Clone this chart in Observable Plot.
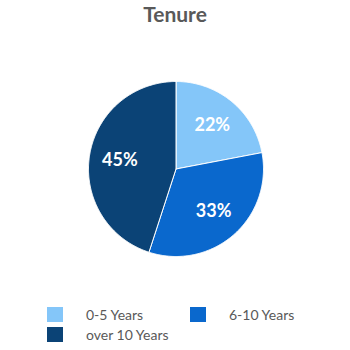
<!DOCTYPE html>
<html>
<head>
<meta charset="utf-8">
<script src="https://cdn.jsdelivr.net/npm/d3@7"></script>
<script src="https://cdn.jsdelivr.net/npm/@observablehq/plot@0.6"></script>
<style>
  html, body { margin: 0; padding: 0; background: #fff; }
  #page { position: relative; width: 350px; height: 350px; overflow: hidden; font-family: Lato, "Open Sans", sans-serif; }
  #title { position: absolute; left: 0; top: 0; width: 350px; text-align: center; font-weight: bold; font-size: 21px; line-height: 28px; color: #595959; }
  #chart { position: absolute; left: 0; top: 35px; }
  .lg { position: absolute; display: flex; align-items: center; font-size: 14px; color: #595959; }
  .sw { width: 16px; height: 15px; display: inline-block; }
</style>
</head>
<body>
<div id="page">
  <div id="title">Tenure</div>
  <div id="chart"></div>
  <div id="legend"></div>
</div>
<script>
const categories = ["0-5 Years", "6-10 Years", "over 10 Years"];
const values = [22, 33, 45];
const labels = ["22%", "33%", "45%"];
const colors = ["#84C6F9", "#0A68CD", "#0B4376"];

// slice geometry from the data (angles clockwise from top)
const pie = d3.pie().sort(null).value(d => d)(values);
const slicePts = [];
pie.forEach((p, i) => {
  slicePts.push({cat: categories[i], x: 0, y: 0});
  const n = Math.max(2, Math.ceil((p.endAngle - p.startAngle) / 0.01));
  for (let k = 0; k <= n; k++) {
    const a = p.startAngle + (p.endAngle - p.startAngle) * k / n;
    slicePts.push({cat: categories[i], x: Math.sin(a), y: Math.cos(a)});
  }
  slicePts.push({cat: categories[i], x: 0, y: 0});
});
const labelPts = pie.map((p, i) => {
  const a = (p.startAngle + p.endAngle) / 2;
  const r = 0.65;
  return {label: labels[i], x: r * Math.sin(a), y: r * Math.cos(a)};
});

const R = 87.5;
const svg = Plot.plot({
  width: 350,
  height: 260,
  marginLeft: 175.5 - R,
  marginRight: 350 - 175.5 - R,
  marginTop: 46,
  marginBottom: 260 - 46 - 2 * R,
  x: {domain: [-1, 1], axis: null},
  y: {domain: [-1, 1], axis: null},
  color: {domain: categories, range: colors},
  style: {background: "transparent", fontFamily: "Lato, 'Open Sans', sans-serif"},
  marks: [
    Plot.line(slicePts, {x: "x", y: "y", z: "cat", fill: "cat", stroke: "white", strokeWidth: 1, curve: "linear"}),
    Plot.text(labelPts, {x: "x", y: "y", text: "label", fill: "white", fontSize: 18, fontWeight: "bold"})
  ]
});
document.getElementById("chart").appendChild(svg);

// legend
const legendPos = [{l: 47, t: 307, gap: 23}, {l: 190, t: 307, gap: 23}, {l: 47, t: 327, gap: 23}];
const leg = document.getElementById("legend");
categories.forEach((c, i) => {
  const d = document.createElement("div");
  d.className = "lg";
  d.style.left = legendPos[i].l + "px";
  d.style.top = legendPos[i].t + "px";
  const sw = document.createElement("span");
  sw.className = "sw";
  sw.style.background = colors[i];
  const tx = document.createElement("span");
  tx.textContent = c;
  tx.style.marginLeft = legendPos[i].gap + "px";
  tx.style.lineHeight = "15px";
  d.appendChild(sw); d.appendChild(tx);
  leg.appendChild(d);
});
</script>
</body>
</html>
